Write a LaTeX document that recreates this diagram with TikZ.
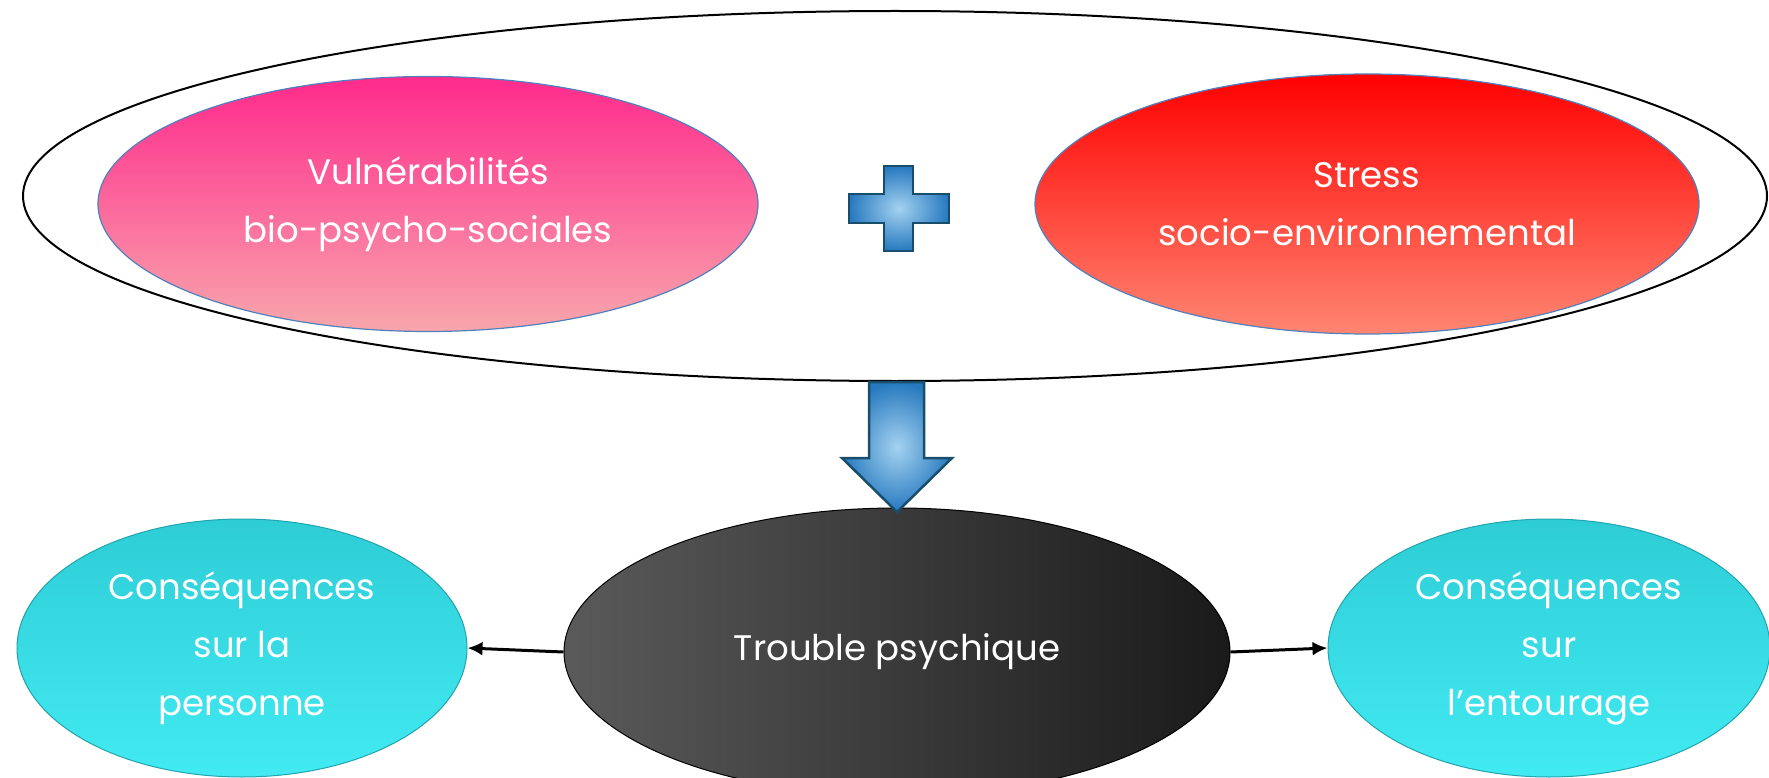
\documentclass[tikz,border=0pt]{standalone}
\usepackage{fontspec}
\setmainfont{Poppins}
\usepackage{tikz}
\usetikzlibrary{arrows.meta,shapes.geometric,positioning}
\definecolor{rimblue}{HTML}{4F81BD}
\definecolor{pinktop}{HTML}{FF2A8C}
\definecolor{pinkbot}{HTML}{F8A6AC}
\definecolor{redtop}{HTML}{FF0000}
\definecolor{redbot}{HTML}{FF8672}
\definecolor{cyantop}{HTML}{2ECDD6}
\definecolor{cyanbot}{HTML}{42EAF2}
\definecolor{cyanrim}{HTML}{22A4AE}
\definecolor{darkleft}{HTML}{5A5A5A}
\definecolor{darkright}{HTML}{1A1A1A}
\definecolor{glowblue}{HTML}{A4D2F0}
\definecolor{deepblue}{HTML}{2679BF}
\definecolor{shaperim}{HTML}{184E6C}

\begin{document}
\begin{tikzpicture}[>={Latex[length=15pt,width=14pt]}, x=1pt, y=-1pt,
  bubble/.style={ellipse, inner sep=0pt, text=white, align=center,
    font=\fontsize{35.5}{58}\selectfont},
  bluesign/.style={draw=shaperim, line width=2.5pt, line join=miter,
    inner color=glowblue, outer color=deepblue}]
  \useasboundingbox (0,0) rectangle (1769,778);
  % cause
  \node[ellipse, draw=black, line width=2pt, minimum width=1744pt, minimum height=370pt] (cause) at (895,196) {};
  \node[bubble, draw=rimblue, line width=1.2pt, top color=pinktop, bottom color=pinkbot,
    minimum width=660pt, minimum height=255pt] (vuln) at (428,204) {Vulnérabilités\\bio-psycho-sociales};
  \node[bubble, draw=rimblue, line width=1.2pt, top color=redtop, bottom color=redbot,
    minimum width=664pt, minimum height=260pt] (stress) at (1367,204) {Stress\\socio-environnemental};
  \draw[bluesign] (884,166) -- (913,166) -- (913,194) -- (949,194) -- (949,223) -- (913,223)
    -- (913,251) -- (884,251) -- (884,223) -- (849,223) -- (849,194) -- (884,194) -- cycle;
  % trouble
  \node[bubble, draw=black, line width=1pt, left color=darkleft, right color=darkright,
    minimum width=666pt, minimum height=288pt] (trouble) at (897,652) {Trouble psychique};
  \draw[bluesign] (869,382) -- (924,382) -- (924,458) -- (952,458) -- (897,512)
    -- (842,458) -- (869,458) -- cycle;
  % consequences
  \node[bubble, draw=cyanrim, line width=1pt, top color=cyantop, bottom color=cyanbot,
    minimum width=450pt, minimum height=258pt] (perso) at (242,648) {Conséquences\\sur la\\personne};
  \node[bubble, draw=cyanrim, line width=1pt, top color=cyantop, bottom color=cyanbot,
    minimum width=442pt, minimum height=258pt] (entour) at (1549,648) {Conséquences\\sur\\l’entourage};
  \draw[->, line width=3pt] (trouble.west) -- (perso.east);
  \draw[->, line width=3pt] (trouble.east) -- (entour.west);
\end{tikzpicture}
\end{document}
